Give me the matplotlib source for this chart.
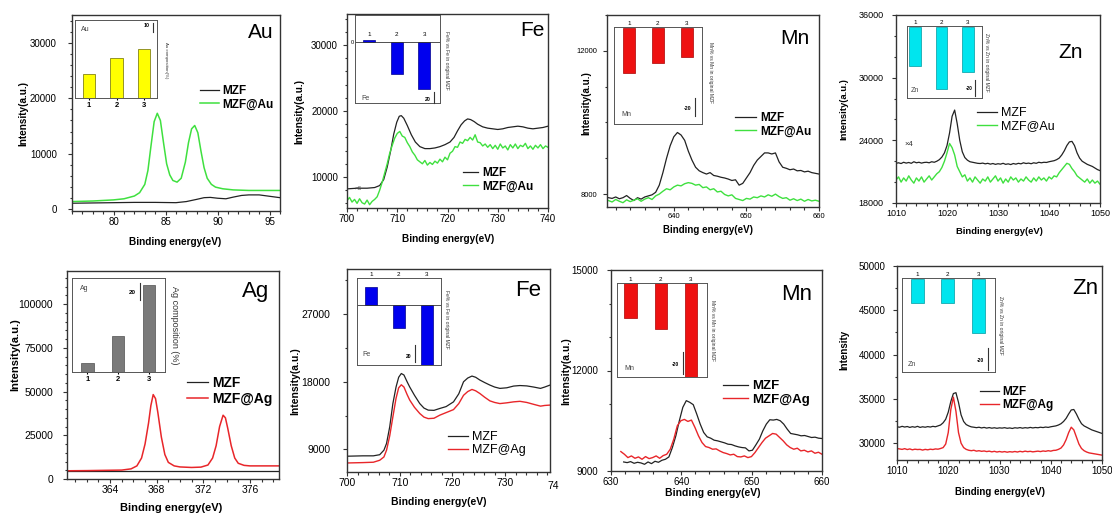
import numpy as np
import matplotlib.pyplot as plt
from matplotlib.ticker import MultipleLocator
from matplotlib.transforms import blended_transform_factory

W, H = 1112, 516
plt.rcParams['font.family'] = ['Liberation Sans', 'DejaVu Sans']

# ---------------- data ----------------
# Au 4f
au_x = [76, 78, 80, 81, 82, 82.5, 83, 83.3, 83.6, 83.9, 84.2, 84.5, 84.8, 85.1, 85.4, 85.7,
        86.1, 86.5, 86.9, 87.2, 87.5, 87.8, 88.1, 88.4, 88.7, 89.0, 89.4, 89.8, 90.5, 91.5, 93, 96]
au_mzfau = [1400, 1500, 1700, 1900, 2400, 3000, 4500, 7000, 11500, 15800, 17300, 16000, 12000, 8200,
            6200, 5200, 4900, 5600, 8500, 12000, 14500, 15100, 13800, 10500, 7500, 5600, 4500, 4000,
            3700, 3500, 3400, 3400]
au_mzf_x = [76, 78, 80, 82, 84, 86, 87, 88, 88.7, 89.3, 90, 90.8, 91.5, 92.3, 93, 94, 95, 96]
au_mzf = [1100, 1150, 1200, 1250, 1250, 1200, 1400, 1800, 2100, 2150, 2000, 1900, 2200, 2500, 2600,
          2600, 2350, 2100]

# Fe 2p (Au series)
fe1_x = [700, 702, 704, 705.5, 706.5, 707.3, 708, 708.7, 709.3, 709.9, 710.4, 710.8, 711.3, 712,
         712.8, 713.6, 714.5, 715.5, 716.5, 717.5, 718.5, 719.5, 720.5, 721.3, 722, 722.7, 723.4,
         724, 724.6, 725.3, 726, 727, 728, 729, 730, 731, 732, 733, 734, 735, 736, 737, 738, 739, 740]
fe1_mzf = [8200, 8300, 8300, 8400, 8700, 9600, 11500, 14000, 16500, 18300, 19200, 19300, 18900,
           17800, 16400, 15300, 14600, 14300, 14300, 14400, 14600, 14900, 15300, 16000, 17000,
           17900, 18500, 18800, 18700, 18400, 18000, 17600, 17400, 17300, 17200, 17300, 17500,
           17600, 17700, 17600, 17400, 17300, 17400, 17500, 17700]
fe1_mzfau = [6400, 6900, 6200, 6600, 6000, 6700, 6100, 5900, 6500, 5800, 6300, 6600, 7000, 8000,
             9200, 10600, 12000, 13600, 14800, 15900, 16600, 16900, 16200, 16000, 15200, 14600,
             13800, 13300, 12600, 12300, 12000, 12500, 11800, 12200, 11900, 12400, 12100, 12700,
             12300, 13000, 12600, 13600, 13900, 14600, 14500, 15300, 15100, 15700, 15500, 16000,
             15600, 16400, 15300, 15200, 14700, 15000, 14500, 14900, 14300, 14800, 14200, 15000,
             14400, 14700, 14100, 14900, 14400, 15000, 14300, 14800, 14600, 15100, 14300, 14700,
             14200, 14800, 14400, 14900, 14300, 14700, 14500]

# Mn 2p (Au series), 631-660 eV every 0.5 eV
mn1_mzf = [7900, 7880, 7920, 7870, 7900, 7960, 7880, 7820, 7900, 7860, 7920, 7950, 7980, 8050,
           8250, 8600, 9000, 9350, 9600, 9720, 9650, 9500, 9200, 8950, 8750, 8650, 8600, 8560,
           8600, 8520, 8500, 8470, 8450, 8420, 8380, 8400, 8250, 8300, 8450, 8600, 8800, 8950,
           9050, 9150, 9150, 9120, 9150, 8900, 8750, 8720, 8680, 8700, 8650, 8660, 8620, 8640,
           8600, 8580, 8560]
mn1_mzfau = [7820, 7780, 7850, 7800, 7760, 7840, 7790, 7830, 7870, 7800, 7860, 7900, 7850, 7950,
             8000, 8080, 8150, 8120, 8200, 8250, 8230, 8290, 8320, 8300, 8250, 8270, 8180, 8200,
             8120, 8150, 8060, 8080, 7990, 7950, 7980, 7880, 7850, 7820, 7880, 7860, 7920, 7900,
             7950, 7920, 7980, 7940, 8000, 7930, 7880, 7900, 7830, 7870, 7820, 7860, 7800, 7850,
             7810, 7830, 7800]

# Zn 2p (Au series), 1010-1050 eV every 0.5 eV
zn1_mzf = [21800, 21850, 21780, 21900, 21820, 21880, 21800, 21950, 21850, 21900, 21820, 21880,
           21900, 21850, 21950, 21900, 22000, 22150, 22400, 22800, 23500, 24700, 26300, 26900,
           25600, 24000, 22900, 22350, 22100, 21950, 21900, 21850, 21800, 21780, 21820, 21750,
           21800, 21720, 21780, 21700, 21760, 21720, 21800, 21700, 21750, 21680, 21780, 21720,
           21800, 21750, 21850, 21780, 21820, 21760, 21850, 21800, 21900, 21850, 21900, 21880,
           21950, 22000, 22050, 22150, 22300, 22600, 23000, 23500, 23850, 23900, 23500, 22800,
           22300, 22000, 21850, 21700, 21600, 21500, 21350, 21200, 21100]
zn1_mzfau = [20200, 20500, 20000, 20400, 20100, 20600, 20200, 19900, 20400, 20100, 20500, 20000,
             20300, 20600, 20200, 20500, 20800, 21000, 21400, 22000, 22800, 23700, 23300, 22600,
             21500, 21000, 20500, 20700, 20100, 20400, 20000, 20500, 20200, 19900, 20300, 20100,
             20500, 20000, 20300, 20600, 20100, 20400, 19900, 20300, 20000, 20500, 20200, 20400,
             20000, 20300, 20100, 20500, 20200, 20000, 20400, 20100, 20500, 20200, 20400, 20100,
             20500, 20300, 20600, 20500, 20900, 21200, 21500, 21800, 21700, 21300, 21000, 20600,
             20400, 20200, 20000, 20300, 19900, 20200, 19900, 20100, 19800]

# Ag 3d
ag_x = [360.3, 362, 364, 365, 365.8, 366.3, 366.7, 367.0, 367.3, 367.5, 367.7, 367.9, 368.1, 368.4,
        368.7, 369.0, 369.5, 370, 371, 371.8, 372.4, 372.8, 373.1, 373.4, 373.7, 373.9, 374.1,
        374.4, 374.7, 375.0, 375.5, 376, 377, 378.5]
ag_mzfag = [4700, 4800, 5000, 5100, 5800, 7500, 12000, 20000, 32000, 42000, 48300, 46000, 38000,
            24000, 14000, 9500, 7500, 6900, 6600, 6800, 8000, 12000, 19000, 30000, 36500, 35000,
            29000, 19000, 12000, 9000, 7800, 7500, 7500, 7500]
ag_mzf_x = [360.3, 378.5]
ag_mzf = [4300, 4300]

# Fe 2p (Ag series)
fe2_x = [700, 703, 705, 706.2, 707, 707.5, 708.1, 708.7, 709.3, 709.8, 710.3, 710.8, 711.4, 711.9,
         712.8, 713.8, 714.6, 715.4, 716.5, 717.6, 718.8, 720.2, 721.2, 722.1, 722.9, 723.7, 724.4,
         725.2, 726.1, 727.1, 728, 729, 730.3, 731.6, 732.8, 734.1, 735.4, 736.7, 737.5, 738.5]
fe2_mzf = [8100, 8150, 8150, 8300, 8900, 9800, 12000, 15100, 17300, 18600, 19100, 18900, 18000,
           17300, 16200, 15100, 14500, 14230, 14200, 14450, 14700, 15330, 16400, 18000, 18500,
           18760, 18600, 18230, 17900, 17560, 17300, 17120, 17200, 17430, 17500, 17450, 17300,
           17120, 17300, 17560]
fe2_mzfag = [7200, 7250, 7300, 7560, 8000, 8900, 10800, 13330, 15800, 17200, 17600, 17300, 16300,
             15560, 14600, 13780, 13300, 13100, 13150, 13560, 13900, 14300, 15100, 16200, 16700,
             16980, 16800, 16440, 15950, 15460, 15250, 15100, 15200, 15330, 15400, 15250, 15000,
             14760, 14850, 14900]

# Mn 2p (Ag series), 631.5-660 eV every 0.5 eV
mn2_mzf = [9270, 9250, 9280, 9230, 9260, 9240, 9200, 9270, 9220, 9290, 9260, 9320, 9350, 9420,
           9700, 10050, 10500, 10900, 11100, 11050, 10980, 10700, 10400, 10150, 10020, 9980, 9920,
           9900, 9870, 9840, 9800, 9790, 9750, 9720, 9700, 9690, 9600, 9620, 9780, 9950, 10200,
           10400, 10530, 10520, 10540, 10500, 10400, 10250, 10120, 10100, 10080, 10050, 10060,
           10030, 10000, 10010, 9980, 9970]
mn2_mzfag = [9580, 9500, 9400, 9450, 9380, 9420, 9350, 9430, 9370, 9400, 9450, 9380, 9460, 9500,
             9650, 9950, 10350, 10500, 10540, 10480, 10520, 10300, 10050, 9850, 9730, 9700, 9650,
             9660, 9600, 9550, 9520, 9480, 9500, 9430, 9420, 9450, 9400, 9430, 9550, 9700, 9850,
             9980, 10050, 10120, 10100, 10000, 9900, 9780, 9700, 9650, 9680, 9600, 9620, 9570,
             9600, 9530, 9560, 9500]

# Zn 2p (Ag series), 1010-1050 eV every 0.5 eV
zn2_mzf = [31850, 31800, 31900, 31820, 31880, 31780, 31860, 31800, 31900, 31780, 31850, 31800,
           31870, 31820, 31900, 31850, 31950, 32050, 32300, 32700, 33500, 34700, 35600, 35700,
           34600, 33200, 32450, 32100, 31950, 31840, 31800, 31750, 31800, 31720, 31780, 31700,
           31760, 31690, 31740, 31680, 31730, 31700, 31750, 31680, 31720, 31660, 31740, 31700,
           31760, 31690, 31750, 31710, 31780, 31720, 31770, 31740, 31800, 31760, 31820, 31780,
           31850, 31900, 31950, 32050, 32200, 32450, 32800, 33300, 33750, 33800, 33300, 32700,
           32200, 31950, 31800, 31650, 31500, 31400, 31300, 31200, 31100]
zn2_mzfag = [29400, 29350, 29300, 29380, 29280, 29350, 29250, 29320, 29280, 29300, 29220, 29300,
             29250, 29320, 29280, 29350, 29320, 29400, 29500, 29900, 31200, 33800, 35200, 33600,
             31200, 30000, 29500, 29300, 29200, 29150, 29200, 29100, 29150, 29080, 29120, 29050,
             29100, 29020, 29080, 29000, 29060, 29000, 29050, 28980, 29040, 29000, 29060, 29000,
             29080, 29020, 29100, 29040, 29080, 29020, 29060, 29100, 29050, 29120, 29080, 29150,
             29100, 29180, 29200, 29300, 29450, 29800, 30400, 31200, 31800, 31500, 30700, 29900,
             29400, 29150, 29000, 28900, 28850, 28800, 28750, 28700, 28650]

# inset bar values (composition / change in %)
samples = [1, 2, 3]
au_comp = [3.3, 5.6, 6.8]
fe1_change = [0.7, -11.2, -16.5]
mn1_change = [-11.2, -8.8, -7.2]
zn1_change = [-12.9, -20.3, -14.8]
ag_comp = [2.2, 9.0, 21.8]
fe2_change = [7.1, -9.0, -23.5]
mn2_change = [-8.6, -11.4, -23.2]
zn2_change = [-5.9, -5.9, -13.3]

GREEN = '#3fe03f'
RED = '#e8262a'
BLACK = '#222222'

fig = plt.figure(figsize=(W / 100, H / 100), dpi=100)


def px_rect(l, t, r, b):
    return [l / W, 1 - b / H, (r - l) / W, (b - t) / H]


def frac(rect, px, py):
    l, t, r, b = rect
    return (px - l) / (r - l), (b - py) / (b - t)


def main_axes(rect, xlim, ylim, xt, yt, tick_fs, ypad):
    ax = fig.add_axes(px_rect(*rect))
    ax.set_xlim(xlim)
    ax.set_ylim(ylim)
    ax.xaxis.set_major_locator(MultipleLocator(xt[0]))
    ax.xaxis.set_minor_locator(MultipleLocator(xt[1]))
    ax.yaxis.set_major_locator(MultipleLocator(yt[0]))
    ax.yaxis.set_minor_locator(MultipleLocator(yt[1]))
    ax.tick_params(which='both', direction='out', top=False, right=False, width=0.8,
                   color='#333333', labelsize=tick_fs)
    ax.tick_params(which='major', length=3)
    ax.tick_params(which='minor', length=1.8)
    ax.tick_params(axis='x', pad=1.5)
    ax.tick_params(axis='y', pad=ypad)
    for s in ax.spines.values():
        s.set_linewidth(1.0)
        s.set_color('#333333')
    return ax


def labels(ax, rect, xl, yl, ytext, fs, weight='bold'):
    ax.set_xlabel('Binding energy(eV)', fontsize=fs, fontweight=weight, va='center')
    ax.xaxis.set_label_coords(*frac(rect, *xl))
    ax.set_ylabel(ytext, fontsize=fs, fontweight=weight, va='center', ha='center')
    ax.yaxis.set_label_coords(*frac(rect, *yl))


def element(ax, rect, name, pos, fs=15):
    ax.text(*frac(rect, *pos), name, transform=ax.transAxes, fontsize=fs, ha='center', va='center')


def legend(ax, rect, names, pos, fs, weight, hl=1.6):
    ax.legend(ax.get_lines(), names, loc='upper left', bbox_to_anchor=frac(rect, *pos),
              frameon=False, prop={'size': fs, 'weight': weight}, handlelength=hl,
              handletextpad=0.3, labelspacing=0.12, borderpad=0, borderaxespad=0)


def inset(rect, vals, color, edge, ylim, xlim, width, name, name_pos, scale, side, side_pos,
          side_fs=3.6, ticks='top', zero=False, label_fs=4.5):
    ax = fig.add_axes(px_rect(*rect))
    ax.bar(samples, vals, width=width, color=color, edgecolor=edge, linewidth=0.5)
    ax.set_xlim(xlim)
    ax.set_ylim(ylim)
    ax.set_yticks([])
    for s in ax.spines.values():
        s.set_linewidth(0.7)
        s.set_color('#555555')
    if zero:
        ax.axhline(0, color='#333333', lw=0.6)
    if ticks == 'top':
        ax.xaxis.tick_top()
        ax.set_xticks(samples)
        ax.tick_params(axis='x', length=0, pad=1, labelsize=label_fs)
    elif ticks == 'bottom':
        ax.set_xticks(samples)
        ax.set_xticklabels([str(s) for s in samples], fontweight='bold')
        ax.tick_params(axis='x', length=1.5, pad=1.5, labelsize=5.5)
    else:
        ax.set_xticks([])
        for s in samples:
            ax.text(s, ticks, str(s), ha='center', va='bottom', fontsize=label_fs)
    ax.text(*frac(rect, *name_pos), name, transform=ax.transAxes, fontsize=5, color='#444444',
            ha='left', va='center')
    # partial right axis carrying the one labelled tick
    sval, sx, lo, hi, stext, sfs = scale
    tw = ax.twinx()
    tw.set_ylim(ylim)
    tw.set_yticks([])
    for k in ['top', 'bottom', 'left']:
        tw.spines[k].set_visible(False)
    tw.spines['right'].set_position(('axes', sx))
    tw.spines['right'].set_bounds(lo, hi)
    tw.spines['right'].set_linewidth(0.8)
    tw.spines['right'].set_color('#333333')
    tr = blended_transform_factory(ax.transAxes, ax.transData)
    ax.text(sx - 0.04, sval, stext, transform=tr, fontsize=sfs, ha='right', va='center',
            fontweight='bold')
    fig.text(side_pos[0] / W, 1 - side_pos[1] / H, side, rotation=-90, fontsize=side_fs,
             ha='center', va='center', color='#333333')
    return ax


# ---------------- Au ----------------
r = (72, 15, 280, 211)
ax = main_axes(r, (76, 96), (-300, 35000), (5, 1), (10000, 2000), 7, 8)
ax.plot(au_mzf_x, au_mzf, color=BLACK, lw=0.9)
ax.plot(au_x, au_mzfau, color=GREEN, lw=1.1)
labels(ax, r, (175, 242), (23, 113), 'Intensity(a.u.)', 7.2)
element(ax, r, 'Au', (261, 33))
legend(ax, r, ['MZF', 'MZF@Au'], (200, 85), 8.5, 'bold')
inset((75, 20, 157, 98), au_comp, '#ffff00', '#6b6b00', (0, 10.8), (0.49, 3.47), 0.44, 'Au',
      (81, 29), (10, 0.95, 9.2, 10.4, '10', 3.8), 'Au composition(%)', (166, 60), side_fs=3.2,
      ticks='bottom')

# ---------------- Fe (Au) ----------------
r = (347, 14, 548, 208)
ax = main_axes(r, (700, 740), (5300, 34700), (10, 2), (10000, 2000), 7, 3.5)
ax.plot(fe1_x, fe1_mzf, color=BLACK, lw=0.9)
ax.plot(np.linspace(700, 740, len(fe1_mzfau)), fe1_mzfau, color=GREEN, lw=1.0)
labels(ax, r, (448, 239), (299, 111), 'Intensity(a.u.)', 7.2)
element(ax, r, 'Fe', (532, 31))
legend(ax, r, ['MZF', 'MZF@Au'], (463, 167), 8.5, 'bold', hl=1.3)
ax.text(*frac(r, 358, 188), '×6', transform=ax.transAxes, fontsize=4.5, ha='center',
        va='center', color='#444444')
ia = inset((355, 15, 440, 103), fe1_change, '#0000ee', '#00008b', (-21.4, 9.5), (0.49, 3.57), 0.43,
           'Fe', (361, 99), (-20, 0.93, -21.4, -17.5, '20', 3.8), 'Fe% vs Fe in original MZF',
           (447, 60), ticks=1.8, zero=True)
ia.set_yticks([0])
ia.set_yticklabels(['0'])
ia.tick_params(axis='y', length=0, pad=1, labelsize=4)

# ---------------- Mn (Au) ----------------
r = (607, 15, 819, 207)
ax = main_axes(r, (630.8, 660), (7640, 13000), (10, 2), (4000, 1000), 5.5, 4)
ax.plot(np.linspace(631, 660, len(mn1_mzf)), mn1_mzf, color=BLACK, lw=0.9)
ax.plot(np.linspace(631, 660, len(mn1_mzfau)), mn1_mzfau, color=GREEN, lw=1.0)
labels(ax, r, (708, 230), (586, 103), 'Intensity(a.u.)', 7)
element(ax, r, 'Mn', (795, 39))
legend(ax, r, ['MZF', 'MZF@Au'], (735, 112), 8.5, 'bold', hl=1.8)
inset((614, 27, 702, 124), mn1_change, '#ee1111', '#aa0000', (-24, 0.25), (0.48, 3.53), 0.43,
      'Mn', (621, 114), (-20, 0.92, -22, -17.5, '-20', 3.8), 'Mn% vs Mn in original MZF',
      (711, 72))

# ---------------- Zn (Au) ----------------
r = (896, 15, 1100, 203)
ax = main_axes(r, (1010, 1050), (18000, 36000), (10, 2), (6000, 2000), 6.5, 6)
ax.plot(np.linspace(1010, 1050, len(zn1_mzf)), zn1_mzf, color=BLACK, lw=0.9)
ax.plot(np.linspace(1010, 1050, len(zn1_mzfau)), zn1_mzfau, color=GREEN, lw=1.0)
labels(ax, r, (999, 232), (844, 109), 'Intensity(a.u.)', 6.8)
element(ax, r, 'Zn', (1071, 52))
legend(ax, r, ['MZF', 'MZF@Au'], (977, 107), 9, 'normal', hl=1.6)
ax.text(*frac(r, 909, 144), '×4', transform=ax.transAxes, fontsize=5.5, ha='center',
        va='center', color='#333333')
inset((907, 26, 982, 98), zn1_change, '#00e5ee', '#009aa0', (-23.2, 0.25), (0.7, 3.54), 0.44,
      'Zn', (911, 90), (-20, 0.91, -22.6, -17.4, '-20', 3.4), 'Zn% vs Zn in original MZF',
      (987, 62))

# ---------------- Ag ----------------
r = (67, 271, 279, 479)
ax = main_axes(r, (360.3, 378.5), (0, 119000), (4, 1), (25000, 5000), 7.5, 7)
ax.plot(ag_mzf_x, ag_mzf, color=BLACK, lw=0.9)
ax.plot(ag_x, ag_mzfag, color=RED, lw=1.1)
labels(ax, r, (171, 508), (15, 355), 'Intensity(a.u.)', 8)
element(ax, r, 'Ag', (256, 292), fs=16)
legend(ax, r, ['MZF', 'MZF@Ag'], (187, 376), 10, 'bold', hl=1.5)
inset((72, 278, 165, 372), ag_comp, '#7a7a7a', '#505050', (0, 23.5), (0.5, 3.52), 0.4, 'Ag',
      (80, 288), (20, 0.73, 18, 22.25, '20', 4.5), 'Ag composition (%)', (174, 325),
      side_fs=6.5, ticks='bottom')

# ---------------- Fe (Ag) ----------------
r = (347, 269, 550, 472)
ax = main_axes(r, (700, 738.5), (6000, 33000), (10, 2), (9000, 4500), 7.5, 9)
ax.plot(fe2_x, fe2_mzf, color=BLACK, lw=0.9)
ax.plot(fe2_x, fe2_mzfag, color=RED, lw=1.0)
labels(ax, r, (439, 502), (295, 381), 'Intensity(a.u.)', 7.5)
element(ax, r, 'Fe', (528, 290), fs=16)
legend(ax, r, ['MZF', 'MZF@Ag'], (448, 431), 9, 'normal', hl=1.6)
fig.text(547 / W, 1 - 486 / H, '74', fontsize=7.5, ha='left', va='center')
inset((357, 278, 441, 365), fe2_change, '#0000ee', '#00008b', (-23.5, 10.6), (0.5, 3.51), 0.43,
      'Fe', (362, 355), (-20, 0.69, -22.4, -15.7, '20', 3.6), 'Fe% vs Fe in original MZF',
      (447, 319), zero=True)

# ---------------- Mn (Ag) ----------------
r = (611, 270, 822, 471)
ax = main_axes(r, (630, 660), (9000, 15000), (10, 2), (3000, 1000), 7, 6)
ax.plot(np.linspace(631.8, 660, len(mn2_mzf)), mn2_mzf, color=BLACK, lw=0.9)
ax.plot(np.linspace(631.4, 660, len(mn2_mzfag)), mn2_mzfag, color=RED, lw=1.0)
labels(ax, r, (713, 493), (566, 371), 'Intensity(a.u.)', 7.5)
element(ax, r, 'Mn', (797, 295), fs=16)
legend(ax, r, ['MZF', 'MZF@Ag'], (723, 380), 9.5, 'bold', hl=1.9)
inset((617, 283, 707, 377), mn2_change, '#ee1111', '#aa0000', (-23.2, 0), (0.55, 3.53), 0.41,
      'Mn', (624, 368), (-20, 0.73, -22.5, -17, '-20', 3.6), 'Mn% vs Mn in original MZF',
      (713, 330))

# ---------------- Zn (Ag) ----------------
r = (897, 266, 1102, 460)
ax = main_axes(r, (1010, 1050), (28100, 50000), (10, 2), (5000, 2500), 7, 5.5)
ax.plot(np.linspace(1010, 1050, len(zn2_mzf)), zn2_mzf, color=BLACK, lw=0.9)
ax.plot(np.linspace(1010, 1050, len(zn2_mzfag)), zn2_mzfag, color=RED, lw=1.0)
labels(ax, r, (1000, 492), (844, 350), 'Intensity', 7)
element(ax, r, 'Zn', (1085, 288), fs=16)
legend(ax, r, ['MZF', 'MZF@Ag'], (980, 386), 8.5, 'bold', hl=1.6)
inset((902, 278, 995, 372), zn2_change, '#00e5ee', '#009aa0', (-22.96, 0.25), (0.5, 3.55), 0.42,
      'Zn', (908, 365), (-20, 0.92, -22.5, -17, '-20', 3.6), 'Zn% vs Zn in original MZF',
      (1001, 325))

fig.savefig('out.png', dpi=100)
